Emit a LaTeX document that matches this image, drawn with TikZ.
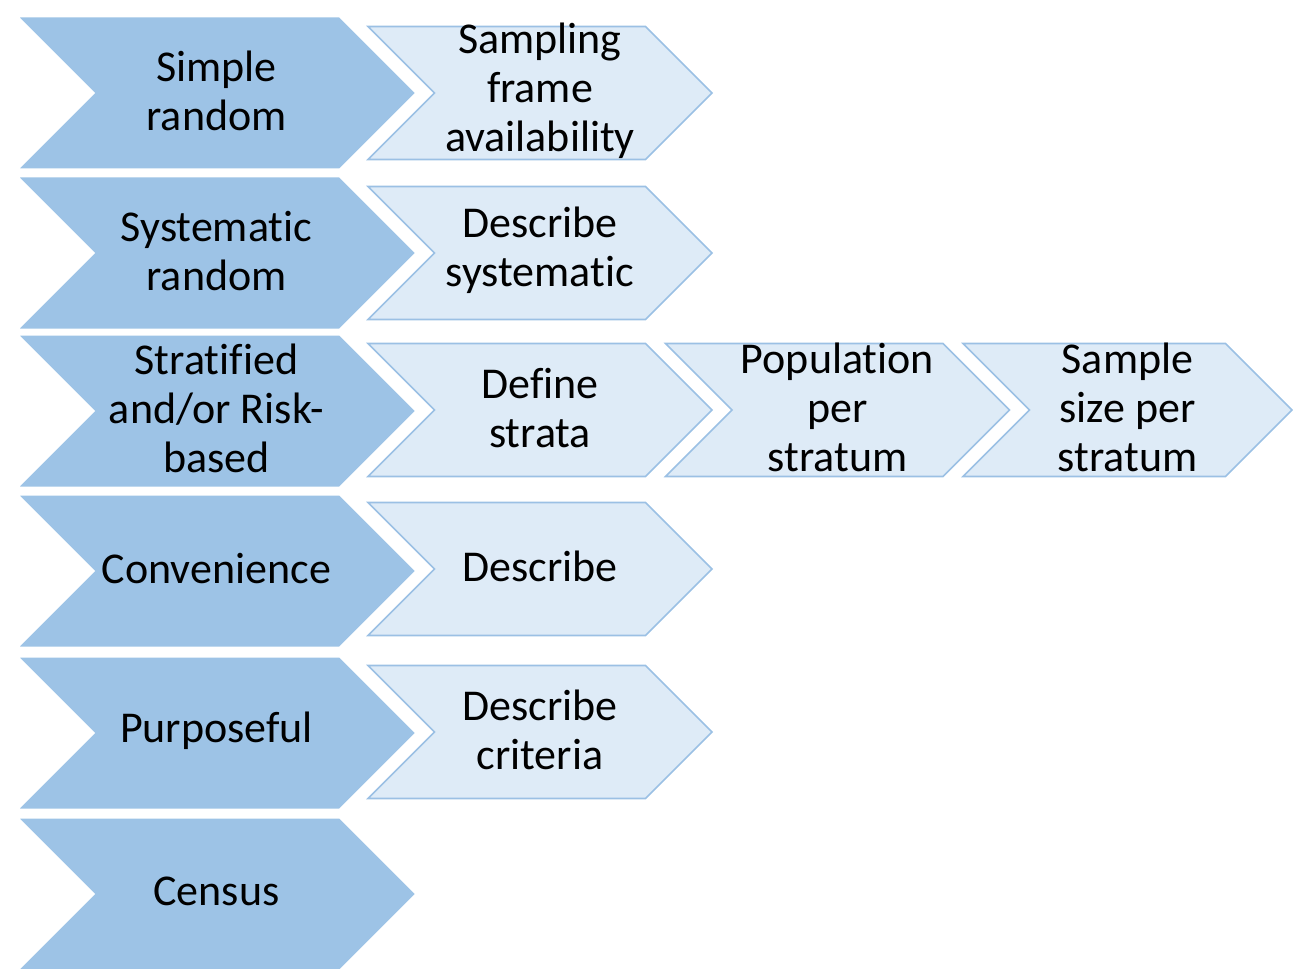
\documentclass[tikz,border=0pt]{standalone}
\usepackage{fontspec}
\setmainfont{Carlito}[Ligatures=NoCommon]
\usetikzlibrary{shapes.symbols}
\definecolor{darkblue}{RGB}{157,195,230}
\definecolor{lightblue}{RGB}{222,235,247}
\definecolor{edgeblue}{RGB}{155,192,228}

\tikzset{
	chevron/.style={signal, signal from=west, signal to=east, signal pointer angle=90, inner sep=0pt, outer sep=0pt},
	method/.style={chevron, fill=darkblue, draw=white, line width=1.5pt, minimum width=200.5pt, minimum height=77pt},
	detail/.style={chevron, fill=lightblue, draw=edgeblue, line width=0.8pt, minimum width=172pt, minimum height=66.5pt},
	chevtext/.style={font=\fontsize{22}{24.5}\selectfont, align=center, text=black, inner sep=0pt, yshift=1.2pt}
}

\begin{document}
\begin{tikzpicture}[x=0.5pt,y=-0.5pt]
	\useasboundingbox (0,0) rectangle (1293,968);
	
	% row 1
	\node[detail, label={[chevtext]center:Sampling\\frame\\availability}] (sframe) at (540,93) {};
	\node[method, label={[chevtext]center:Simple\\random}] (simple) at (216.5,93) {};
	% row 2
	\node[detail, label={[chevtext]center:Describe\\systematic}] (dsyst) at (540,253) {};
	\node[method, label={[chevtext]center:Systematic\\random}] (syst) at (216.5,253) {};
	% row 3
	\node[detail, label={[chevtext]center:Define\\strata}] (strata) at (540,410) {};
	\node[detail, label={[chevtext]center:Population\\per\\stratum}] (popul) at (837.5,410) {};
	\node[detail, minimum width=164.5pt, label={[chevtext]center:Sample\\size per\\stratum}] (ssize) at (1127.5,410) {};
	\node[method, label={[chevtext]center:Stratified\\and/or Risk-\\based}] (strat) at (216.5,411) {};
	% row 4
	\node[detail, label={[chevtext]center:Describe}] (dconv) at (540,569) {};
	\node[method, label={[chevtext]center:Convenience}] (conv) at (216.5,571) {};
	% row 5
	\node[detail, label={[chevtext]center:Describe\\criteria}] (dcrit) at (540,732) {};
	\node[method, label={[chevtext]center:Purposeful}] (purp) at (216.5,733) {};
	% row 6
	\node[method, label={[chevtext]center:Census}] (census) at (216.5,894) {};
\end{tikzpicture}
\end{document}
